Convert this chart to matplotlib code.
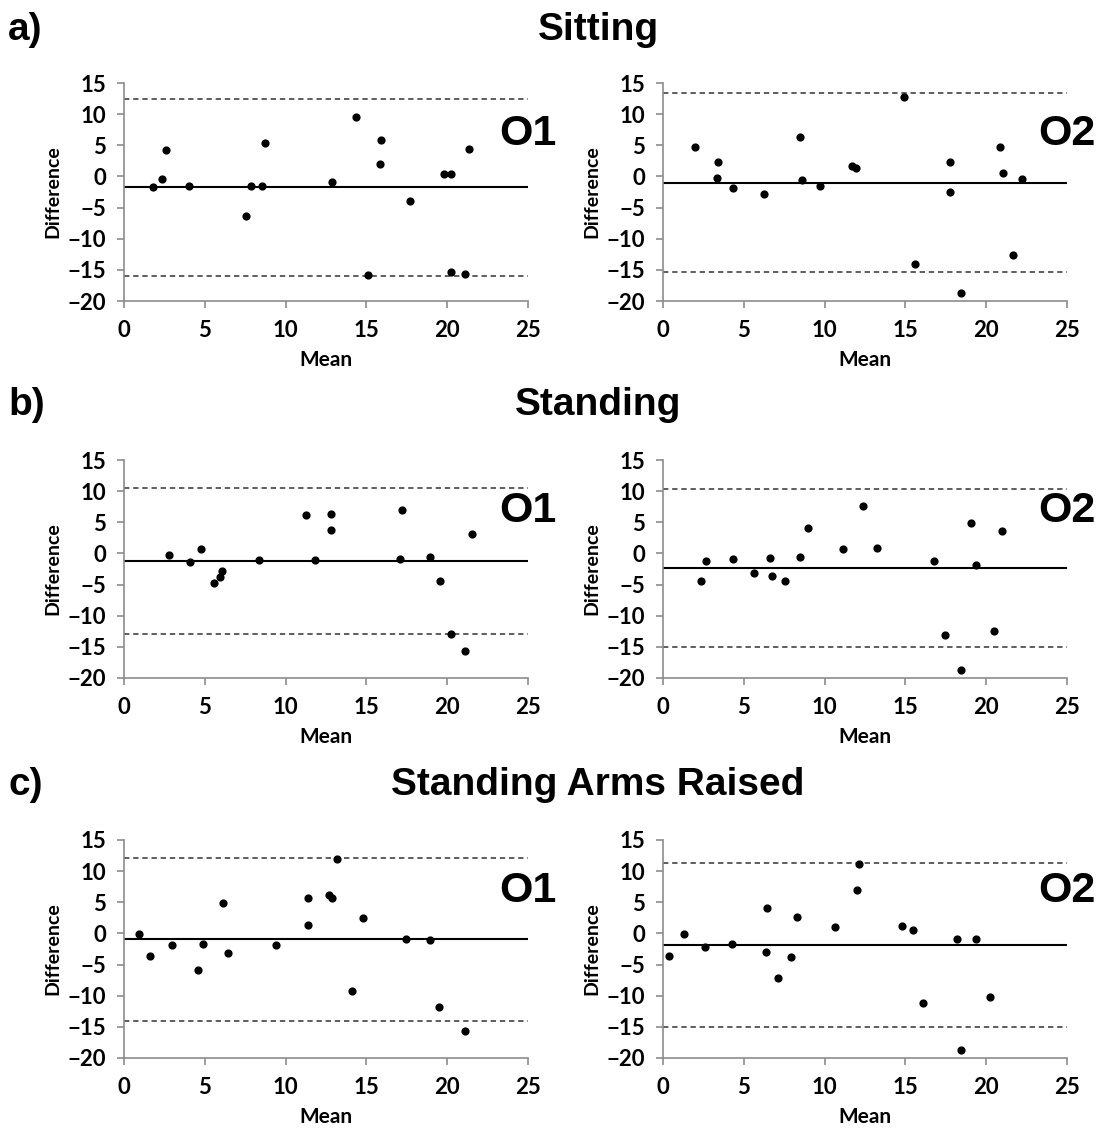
import matplotlib
matplotlib.use("Agg")
import matplotlib.pyplot as plt
import numpy as np

# Bland-Altman data: (mean, difference) per observer / posture
sit_o1_x = [1.78, 2.33, 2.60, 4.00, 7.58, 7.87, 8.57, 8.75, 12.88, 14.33, 15.11, 15.90, 15.85, 17.67, 19.78, 20.23, 20.25, 21.12, 21.37]
sit_o1_y = [-1.73, -0.34, 4.31, -1.50, -6.43, -1.57, -1.50, 5.43, -0.87, 9.50, -15.89, 5.86, 2.01, -3.87, 0.46, 0.46, -15.41, -15.62, 4.47]
sit_o1_lines = [-1.68, 12.49, -15.95]

sit_o2_x = [2.00, 3.40, 3.36, 4.33, 6.25, 8.46, 8.62, 9.74, 11.72, 11.96, 14.89, 15.57, 17.78, 17.74, 18.42, 20.87, 21.06, 21.66, 22.22]
sit_o2_y = [4.66, 2.35, -0.33, -1.83, -2.90, 6.37, -0.65, -1.50, 1.66, 1.28, 12.75, -14.05, 2.30, -2.58, -18.76, 4.71, 0.53, -12.60, -0.49]
sit_o2_lines = [-1.02, 13.39, -15.39]

std_o1_x = [2.81, 4.09, 4.77, 5.57, 5.97, 6.07, 8.38, 11.29, 11.83, 12.80, 12.82, 17.22, 17.11, 18.95, 19.55, 20.21, 21.12, 21.51]
std_o1_y = [-0.23, -1.41, 0.78, -4.78, -3.71, -2.90, -1.09, 6.23, -0.98, 6.34, 3.83, 6.93, -0.93, -0.55, -4.40, -13.00, -15.68, 3.19]
std_o1_lines = [-1.25, 10.56, -12.90]

std_o2_x = [2.33, 2.64, 4.31, 5.63, 6.62, 6.77, 7.53, 8.48, 8.95, 11.12, 12.36, 13.26, 16.79, 17.43, 18.44, 19.06, 19.35, 20.50, 20.98]
std_o2_y = [-4.42, -1.27, -0.84, -3.19, -0.79, -3.67, -4.48, -0.52, 4.14, 0.66, 7.62, 0.88, -1.16, -13.14, -18.71, 4.94, -1.80, -12.39, 3.66]
std_o2_lines = [-2.28, 10.40, -15.07]

arm_o1_x = [0.93, 1.59, 2.97, 4.55, 4.88, 6.10, 6.45, 9.40, 11.38, 11.40, 12.70, 12.88, 13.15, 14.12, 14.78, 17.42, 18.96, 19.48, 21.13]
arm_o1_y = [-0.13, -3.55, -1.78, -5.90, -1.67, 4.95, -3.17, -1.84, 5.65, 1.32, 6.18, 5.75, 12.01, -9.21, 2.44, -0.87, -1.03, -11.83, -15.73]
arm_o1_lines = [-0.87, 12.17, -14.08]

arm_o2_x = [0.37, 1.30, 2.57, 4.28, 6.45, 6.36, 7.10, 7.91, 8.32, 10.65, 12.03, 12.13, 14.77, 15.44, 16.06, 18.20, 18.45, 19.36, 20.26]
arm_o2_y = [-3.67, -0.09, -2.23, -1.69, 4.03, -2.92, -7.20, -3.78, 2.59, 0.98, 6.97, 11.20, 1.20, 0.50, -11.22, -0.94, -18.76, -0.94, -10.25]
arm_o2_lines = [-1.85, 11.25, -15.07]

rows = [
    ("a)", "Sitting", [(sit_o1_x, sit_o1_y, sit_o1_lines, "O1"), (sit_o2_x, sit_o2_y, sit_o2_lines, "O2")]),
    ("b)", "Standing", [(std_o1_x, std_o1_y, std_o1_lines, "O1"), (std_o2_x, std_o2_y, std_o2_lines, "O2")]),
    ("c)", "Standing Arms Raised", [(arm_o1_x, arm_o1_y, arm_o1_lines, "O1"), (arm_o2_x, arm_o2_y, arm_o2_lines, "O2")]),
]

W, H = 1104, 1133
fig = plt.figure(figsize=(W / 100, H / 100), dpi=100)

col_left = [124, 663]
ax_w = 404
ax_h = 218
row_top = [83, 460, 840]
title_y = [30, 405, 785]

spine_col = "#8c8c8c"

for r, (tag, title, panels) in enumerate(rows):
    fig.text(8 / W, 1 - title_y[r] / H, tag, ha="left", va="center",
             family="Liberation Sans", weight="bold", fontsize=28)
    fig.text(598 / W, 1 - title_y[r] / H, title, ha="center", va="center",
             family="Liberation Sans", weight="bold", fontsize=28)
    for c, (xs, ys, lines, lab) in enumerate(panels):
        ax = fig.add_axes([col_left[c] / W, 1 - (row_top[r] + ax_h) / H, ax_w / W, ax_h / H])
        ax.axhline(lines[0], color="black", lw=1.5, zorder=1)
        ax.axhline(lines[1], color="#333333", lw=1.1, ls=(0, (3.5, 2.5)), zorder=1)
        ax.axhline(lines[2], color="#333333", lw=1.1, ls=(0, (3.5, 2.5)), zorder=1)
        ax.scatter(xs, ys, s=24, color="black", zorder=3)
        ax.set_xlim(0, 25)
        ax.set_ylim(-20, 15)
        ax.set_xticks(np.arange(0, 26, 5))
        ax.set_yticks(np.arange(-20, 16, 5))
        for s in ("top", "right"):
            ax.spines[s].set_visible(False)
        for s in ("left", "bottom"):
            ax.spines[s].set_color(spine_col)
            ax.spines[s].set_linewidth(1.2)
        ax.tick_params(direction="out", length=5, width=1.2, color=spine_col)
        ax.tick_params(axis="x", pad=9)
        ax.tick_params(axis="y", pad=8)
        for t in ax.get_xticklabels() + ax.get_yticklabels():
            t.set_fontfamily("Lato")
            t.set_fontweight("bold")
            t.set_fontsize(16)
        ax.set_xlabel("Mean", family="Lato", weight="bold", fontsize=15, labelpad=6)
        ax.set_ylabel("Difference", family="Lato", weight="bold", fontsize=14, labelpad=4)
        ax.text(1.07, 0.765, lab, transform=ax.transAxes, ha="right", va="center",
                family="Liberation Sans", weight="bold", fontsize=31)

fig.savefig("out.png", dpi=100, facecolor="white")
